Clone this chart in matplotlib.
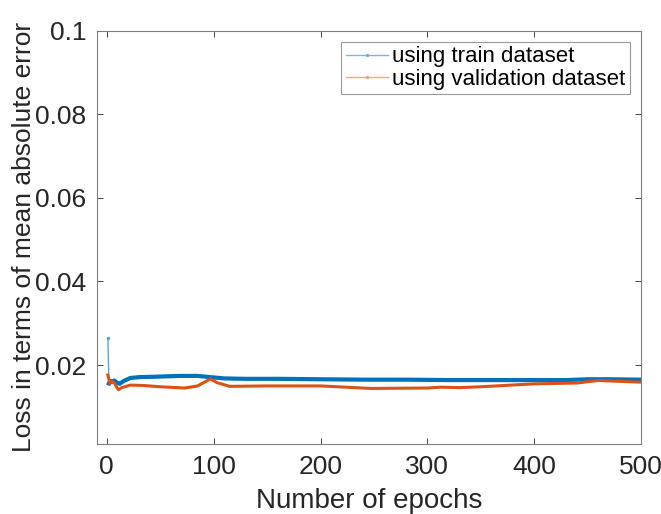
import matplotlib
matplotlib.use("Agg")
import matplotlib.pyplot as plt
from matplotlib.lines import Line2D

plt.rcParams['font.family'] = ['Liberation Sans', 'DejaVu Sans']

# values (epoch, loss)
train_epochs = [1, 2, 3, 5, 7, 10, 12, 16, 22, 30, 45, 68, 85, 97, 110, 130, 160, 200,
                240, 280, 320, 360, 400, 430, 450, 470, 500]
train_loss = [0.0264, 0.0156, 0.0162, 0.0160, 0.0163, 0.0157, 0.0155, 0.0162, 0.0169, 0.0171,
              0.0172, 0.0174, 0.0174, 0.0171, 0.0168, 0.0167, 0.0167, 0.0166,
              0.0165, 0.0165, 0.0164, 0.0164, 0.0164, 0.0164, 0.0166, 0.0166, 0.0165]

val_epochs = [1, 3, 5, 7, 9, 11, 14, 22, 35, 50, 73, 85, 97, 103, 115, 150, 200,
              247, 300, 312, 330, 350, 400, 440, 460, 480, 500]
val_loss = [0.0176, 0.0156, 0.0161, 0.0158, 0.0148, 0.0141, 0.0146, 0.0152, 0.0151, 0.0148,
            0.0145, 0.0150, 0.0167, 0.0158, 0.0149, 0.0150, 0.0150,
            0.0144, 0.0145, 0.0147, 0.0146, 0.0148, 0.0155, 0.0157, 0.0163, 0.0161, 0.0159]

blue = '#0072BD'
orange = '#D95319'

fig = plt.figure(figsize=(6.61, 5.14), dpi=100)
ax = fig.add_axes([0.147, 0.137, 0.823, 0.803])

# first step of the train curve is a thin single segment
ax.plot(train_epochs[:2], train_loss[:2], color='#5aa5d8', lw=1.0, marker='.', ms=3)
ax.plot(train_epochs[1:], train_loss[1:], color=blue, lw=3.0)
ax.plot(val_epochs, val_loss, color=orange, lw=2.2)

ax.set_xlim(-9, 500)
ax.set_ylim(0.0012, 0.1)
ax.set_xticks([0, 100, 200, 300, 400, 500])
ax.set_yticks([0.02, 0.04, 0.06, 0.08, 0.1])
ax.set_yticklabels(['0.02', '0.04', '0.06', '0.08', '0.1'])

ax.tick_params(direction='in', top=True, right=True, labelsize=19,
               colors='#262626', length=4, width=0.6, pad=8)
for sp in ax.spines.values():
    sp.set_color('#808080')
    sp.set_linewidth(0.8)

ax.set_xlabel('Number of epochs', fontsize=20, color='#262626', labelpad=7)
ax.set_ylabel('Loss in terms of mean absolute error', fontsize=19, color='#262626', labelpad=-1)

handles = [Line2D([], [], color='#7db8e0', lw=1, marker='.', ms=3, markerfacecolor=blue),
           Line2D([], [], color='#eda98d', lw=1, marker='.', ms=3, markerfacecolor=orange)]
leg = ax.legend(handles, ['using train dataset', 'using validation dataset'],
                loc='upper right', fontsize=16, frameon=True, fancybox=False,
                edgecolor='#808080', handlelength=1.9, handletextpad=0.2,
                borderpad=0.2, labelspacing=0.05, borderaxespad=0.5)
leg.get_frame().set_linewidth(0.8)

fig.savefig('out.png', dpi=100)
